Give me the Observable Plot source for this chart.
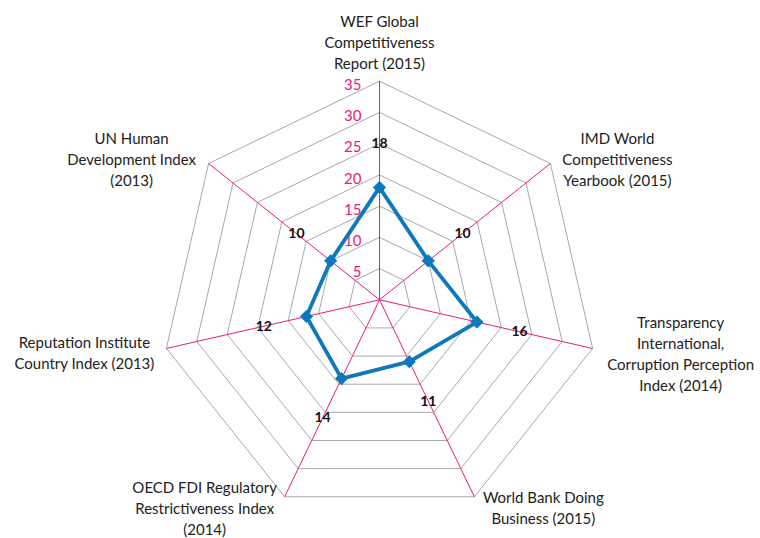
<!DOCTYPE html>
<html>
<head>
<meta charset="utf-8">
<script src="https://cdn.jsdelivr.net/npm/d3@7"></script>
<script src="https://cdn.jsdelivr.net/npm/@observablehq/plot@0.6"></script>
<style>
  html, body { margin: 0; padding: 0; background: #fff; }
</style>
</head>
<body>
<div id="chart"></div>
<script>
// ---- data ----
const categories = [
  "WEF Global\nCompetitiveness\nReport (2015)",
  "IMD World\nCompetitiveness\nYearbook (2015)",
  "Transparency\nInternational,\nCorruption Perception\nIndex (2014)",
  "World Bank Doing\nBusiness (2015)",
  "OECD FDI Regulatory\nRestrictiveness Index\n(2014)",
  "Reputation Institute\nCountry Index (2013)",
  "UN Human\nDevelopment Index\n(2013)"
];
const values = [18, 10, 16, 11, 14, 12, 10];
const ticks = [5, 10, 15, 20, 25, 30, 35];

// ---- layout (pixel offsets of category labels from their outer vertex) ----
const labelOffsets = [
  [0, -40], [67, -5], [88, 4], [69, 10], [-80, 11], [-82, 3], [-77, -5]
];

const W = 760, H = 538;
const cx = 379, cy = 299.3;
const rMax = 35, rPx = 218.6;
const k = rPx / rMax; // px per unit
const n = categories.length;
const ang = i => (i * 2 * Math.PI) / n;
const px = (r, i) => r * Math.sin(ang(i));
const py = (r, i) => r * Math.cos(ang(i));

const pink = "#e61c7e";
const blue = "#0f78bd";
const grey = "#a8a8a8";
const font = "Lato, 'Open Sans', sans-serif";

// grid rings
const rings = ticks.flatMap(t =>
  d3.range(n + 1).map(i => ({t, x: px(t, i % n), y: py(t, i % n)}))
);
// spokes
const spokes = categories.map((c, i) => ({x1: 0, y1: 0, x2: px(rMax, i), y2: py(rMax, i)}));
// series
const pts = values.map((v, i) => ({v, x: px(v, i), y: py(v, i)}));
const loop = [...pts, pts[0]];
// value labels
const vlabels = values.map((v, i) => ({v, x: px(v + 7, i), y: py(v + 7, i)}));
// category labels
const clabels = categories.map((c, i) => ({
  c,
  x: px(rMax, i) + labelOffsets[i][0] / k,
  y: py(rMax, i) - labelOffsets[i][1] / k
}));

const chart = Plot.plot({
  width: W,
  height: H,
  margin: 0,
  style: {fontFamily: font, background: "#fff"},
  x: {type: "linear", domain: [-cx / k, (W - cx) / k], range: [0, W], axis: null},
  y: {type: "linear", domain: [-(H - cy) / k, cy / k], range: [H, 0], axis: null},
  marks: [
    Plot.line(rings, {x: "x", y: "y", z: "t", stroke: grey, strokeWidth: 1}),
    Plot.link(spokes, {x1: "x1", y1: "y1", x2: "x2", y2: "y2", stroke: pink, strokeWidth: 1}),
    Plot.text(ticks, {x: 0, y: d => d, text: d => String(d), textAnchor: "end", dx: -18, dy: 4,
      fill: pink, fontSize: 15}),
    Plot.line(loop, {x: "x", y: "y", stroke: blue, strokeWidth: 3.8, strokeLinejoin: "round"}),
    Plot.dot(pts, {x: "x", y: "y", symbol: "diamond2", fill: blue, stroke: blue, strokeWidth: 1, r: 5.5}),
    Plot.text(vlabels, {x: "x", y: "y", text: d => String(d.v), fontWeight: "bold", fontSize: 14, fill: "#111"}),
    Plot.text(clabels, {x: "x", y: "y", text: "c", fontSize: 15, lineHeight: 1.4, fill: "#222", textAnchor: "middle"})
  ]
});
document.getElementById("chart").appendChild(chart);
</script>
</body>
</html>
